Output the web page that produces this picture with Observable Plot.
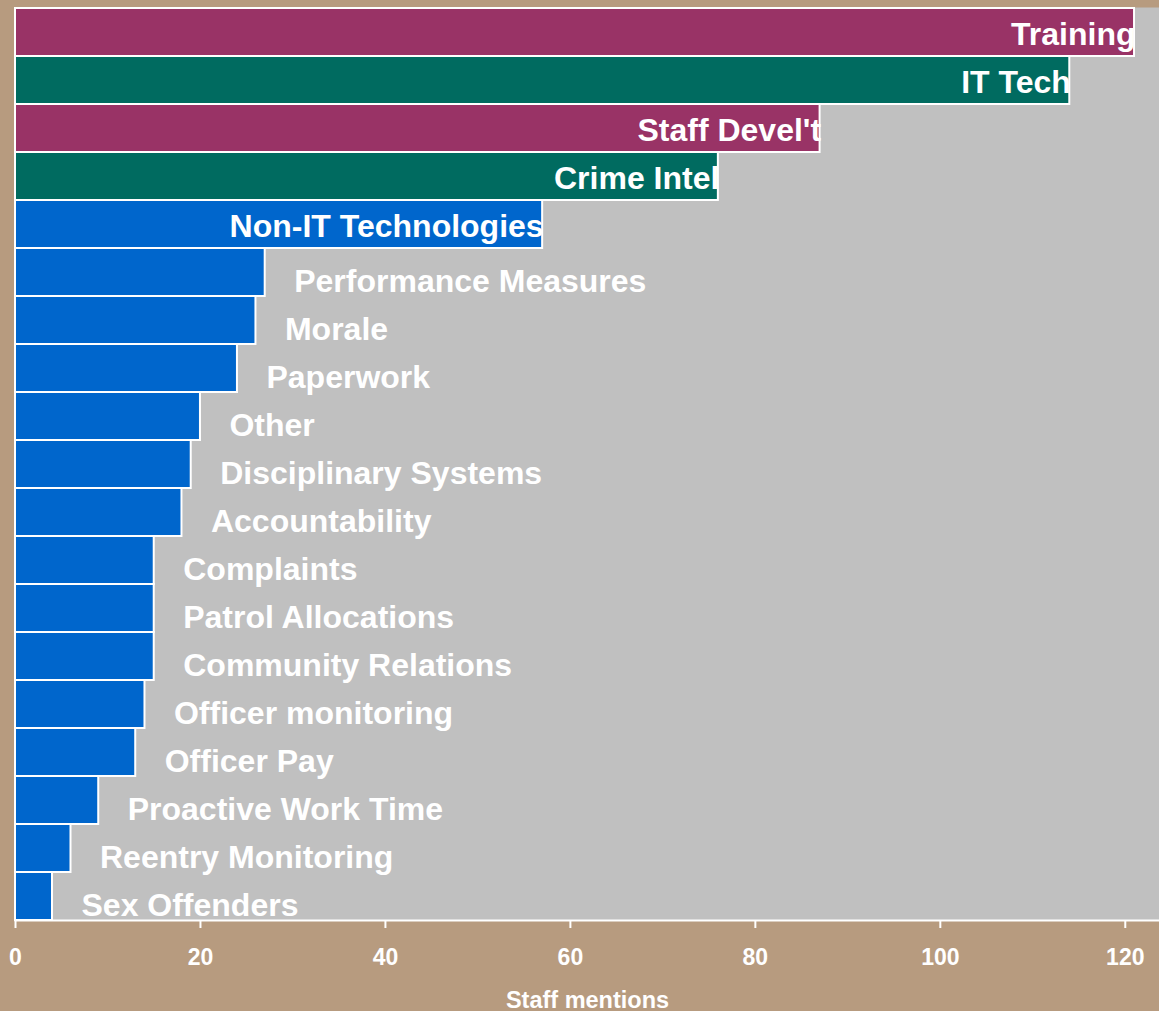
<!DOCTYPE html>
<html>
<head>
<meta charset="utf-8">
<script src="https://cdn.jsdelivr.net/npm/d3@7"></script>
<script src="https://cdn.jsdelivr.net/npm/@observablehq/plot@0.6"></script>
<style>
  html, body { margin: 0; padding: 0; background: #b79b7f; }
  #chart { width: 1159px; height: 1011px; }
</style>
</head>
<body>
<div id="chart"></div>
<script>
const categories = ["Training", "IT Tech", "Staff Devel't", "Crime Intel", "Non-IT Technologies",
  "Performance Measures", "Morale", "Paperwork", "Other", "Disciplinary Systems", "Accountability",
  "Complaints", "Patrol Allocations", "Community Relations", "Officer monitoring", "Officer Pay",
  "Proactive Work Time", "Reentry Monitoring", "Sex Offenders"];
const values = [121, 114, 87, 76, 57, 27, 26, 24, 20, 19, 18, 15, 15, 15, 14, 13, 9, 6, 4];
const groups = ["A", "B", "A", "B", "C", "C", "C", "C", "C", "C", "C", "C", "C", "C", "C", "C", "C", "C", "C"];
const insideLabel = [true, true, true, true, true, false, false, false, false, false, false, false, false, false, false, false, false, false, false];
const xTicks = [0, 20, 40, 60, 80, 100, 120];
const axisTitle = "Staff mentions";

const data = categories.map((name, i) => ({name, value: values[i], group: groups[i], inside: insideLabel[i]}));

const font = "'Liberation Sans', Arial, Helvetica, sans-serif";

const chart = Plot.plot({
  width: 1159,
  height: 1011,
  marginLeft: 15,
  marginRight: 0,
  marginTop: 7,
  marginBottom: 91,
  style: {background: "transparent", fontFamily: font, fontWeight: "bold", color: "white"},
  x: {domain: [0, 123.7], ticks: xTicks},
  y: {domain: categories, padding: 0, axis: null},
  color: {domain: ["A", "B", "C"], range: ["#993366", "#006b60", "#0066cc"]},
  marks: [
    Plot.frame({fill: "#c0c0c0"}),
    Plot.barX(data, {x: "value", y: "name", fill: "group", stroke: "white", strokeWidth: 2}),
    Plot.frame({anchor: "bottom", stroke: "white", strokeWidth: 2}),
    Plot.axisX({ticks: xTicks, tickSize: 8, tickPadding: 20, fontSize: 23, stroke: "white", strokeWidth: 2, fill: "white", label: null}),
    Plot.text(data.filter(d => d.inside), {x: "value", y: "name", text: "name", textAnchor: "end", dx: 1, dy: 2,
      fill: "white", fontSize: 32, fontWeight: "bold", fontFamily: font}),
    Plot.text(data.filter(d => !d.inside), {x: "value", y: "name", text: "name", textAnchor: "start", dx: 29, dy: 9,
      fill: "white", fontSize: 32, fontWeight: "bold", fontFamily: font}),
    Plot.text([axisTitle], {frameAnchor: "bottom", dy: 87, text: d => d, fill: "white", fontSize: 23.5, fontWeight: "bold", fontFamily: font})
  ]
});
document.getElementById("chart").appendChild(chart);
</script>
</body>
</html>
